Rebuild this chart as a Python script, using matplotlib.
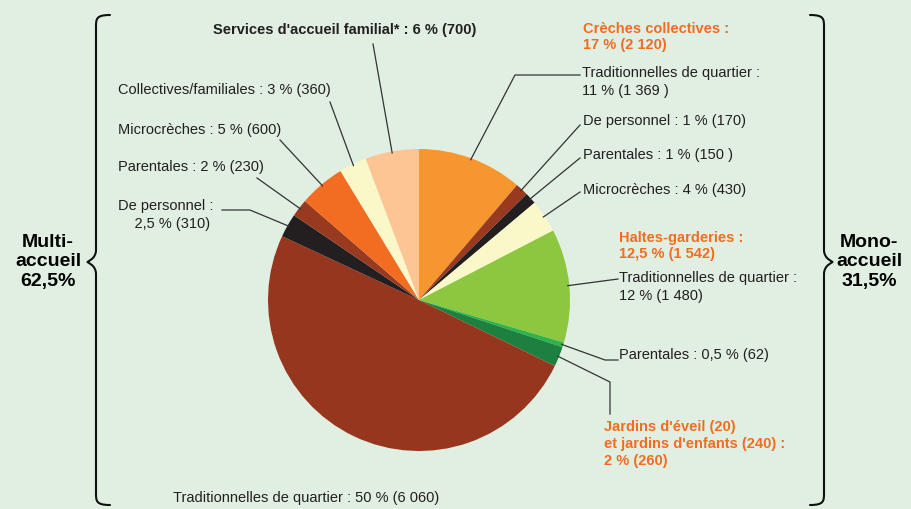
import numpy as np
import matplotlib
matplotlib.use("Agg")
import matplotlib.pyplot as plt
from matplotlib.path import Path
from matplotlib.patches import PathPatch
from matplotlib import font_manager

# data: slices clockwise from the top
values = [1369, 170, 150, 430, 1480, 62, 260, 6060, 310, 230, 600, 360, 700]
colors = ['#f7962f', '#983a1f', '#231f20', '#faf7c9', '#8dc63f', '#2db34a', '#1d8040',
          '#96361e', '#231f20', '#983a1f', '#f26c22', '#faf7c9', '#fdc494']
slice_labels = [
    "Traditionnelles de quartier :\n11 % (1 369 )",
    "De personnel : 1 % (170)",
    "Parentales : 1 % (150 )",
    "Microcrèches : 4 % (430)",
    "Traditionnelles de quartier :\n12 % (1 480)",
    "Parentales : 0,5 % (62)",
    "Jardins d'éveil (20)\net jardins d'enfants (240) :\n2 % (260)",
    "Traditionnelles de quartier : 50 % (6 060)",
    "De personnel :\n    2,5 % (310)",
    "Parentales : 2 % (230)",
    "Microcrèches : 5 % (600)",
    "Collectives/familiales : 3 % (360)",
    "Services d'accueil familial* : 6 % (700)",
]
group_labels = ["Crèches collectives :\n17 % (2 120)", "Haltes-garderies :\n12,5 % (1 542)"]
side_labels = ["Multi-\naccueil\n62,5%", "Mono-\naccueil\n31,5%"]

names = {f.name for f in font_manager.fontManager.ttflist}
fam = 'Liberation Sans Narrow' if 'Liberation Sans Narrow' in names else 'Liberation Sans'
plt.rcParams['font.family'] = [fam, 'DejaVu Sans']

W, H = 912, 509
bg = '#e0efe2'
orange = '#f26c22'
fig = plt.figure(figsize=(W / 100, H / 100), dpi=100, facecolor=bg)
ax = fig.add_axes([0, 0, 1, 1])

cx, cy, R = 419, H - 300, 151
wedges, _ = ax.pie(values, colors=colors, startangle=90, counterclock=False,
                   center=(cx, cy), radius=R, frame=True,
                   wedgeprops=dict(linewidth=0))
ax.set_xlim(0, W)
ax.set_ylim(0, H)
ax.axis('off')


def Y(y):
    return H - y


# text positions and leader waypoints (pixel coords, y from top)
layout = [
    ((582, 82), 'left', [(515, 75), (580, 75)], False),
    ((583, 121), 'left', [(580, 125)], False),
    ((583, 155), 'left', [(580, 158)], False),
    ((583, 190), 'left', [(580, 192)], False),
    ((619, 287), 'left', [(618, 279)], False),
    ((619, 355), 'left', [(605, 360), (618, 360)], False),
    ((604, 444), 'left', [(610, 382), (610, 414)], True),
    ((306, 498), 'center', None, False),
    ((118, 215), 'left', [(250, 210), (222, 210)], False),
    ((118, 167), 'left', [(257, 178)], False),
    ((118, 130), 'left', [(280, 140)], False),
    ((118, 90), 'left', [(330, 102)], False),
    ((345, 30), 'center', [(373, 44)], False),
]

fs = 10.5
for i, (w, lab) in enumerate(zip(wedges, slice_labels)):
    (tx, ty), ha, pts, orng = layout[i]
    bold = orng or i == 12
    ax.text(tx, Y(ty), lab, ha=ha, va='center', fontsize=fs,
            color=orange if orng else '#231f20',
            fontweight='bold' if bold else 'normal',
            linespacing=1.25 if orng else 1.35)
    if pts:
        ang = np.deg2rad((w.theta1 + w.theta2) / 2)
        px, py = cx + R * 0.99 * np.cos(ang), cy + R * 0.99 * np.sin(ang)
        xs = [px] + [p[0] for p in pts]
        ys = [py] + [Y(p[1]) for p in pts]
        ax.plot(xs, ys, color='#333333', lw=0.9)

ax.text(583, Y(37), group_labels[0], ha='left', va='center', fontsize=fs,
        color=orange, fontweight='bold', linespacing=1.25)
ax.text(619, Y(246), group_labels[1], ha='left', va='center', fontsize=fs,
        color=orange, fontweight='bold', linespacing=1.25)

ax.text(48, Y(262), side_labels[0], ha='center', va='center', fontsize=14,
        fontweight='bold', linespacing=1.22, multialignment='center')
ax.text(869, Y(262), side_labels[1], ha='center', va='center', fontsize=14,
        fontweight='bold', linespacing=1.22, multialignment='center')


def brace(x_edge, x_mid, x_tip, y_top, y_tip, y_bot):
    d = 12
    verts = [(x_edge, Y(y_top)),
             (x_mid, Y(y_top)), (x_mid, Y(y_top + 4)), (x_mid, Y(y_top + d)),
             (x_mid, Y(y_tip - d)),
             (x_mid, Y(y_tip - 3)), (x_tip, Y(y_tip)), (x_tip, Y(y_tip)),
             (x_tip, Y(y_tip)), (x_mid, Y(y_tip + 3)), (x_mid, Y(y_tip + d)),
             (x_mid, Y(y_bot - d)),
             (x_mid, Y(y_bot - 4)), (x_mid, Y(y_bot)), (x_edge, Y(y_bot))]
    codes = [Path.MOVETO, Path.CURVE4, Path.CURVE4, Path.CURVE4, Path.LINETO,
             Path.CURVE4, Path.CURVE4, Path.CURVE4, Path.CURVE4, Path.CURVE4, Path.CURVE4,
             Path.LINETO, Path.CURVE4, Path.CURVE4, Path.CURVE4]
    ax.add_patch(PathPatch(Path(verts, codes), fill=False, lw=1.5, color='#111111',
                           capstyle='round'))


brace(110, 96, 87, 15, 262, 505)
brace(810, 824, 833, 15, 262, 505)

fig.savefig('out.png', dpi=100, facecolor=bg)
